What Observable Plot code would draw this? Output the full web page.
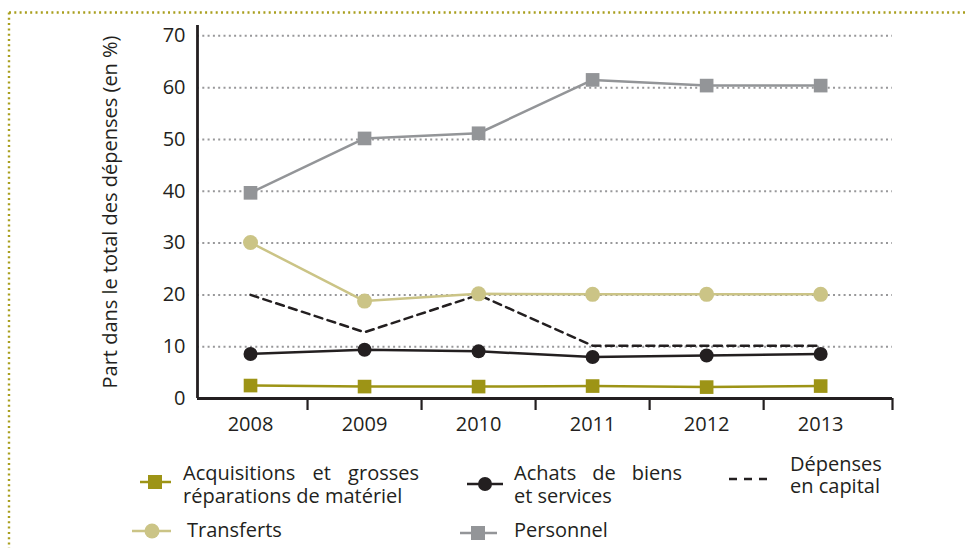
<!DOCTYPE html>
<html>
<head>
<meta charset="utf-8">
<script src="https://cdn.jsdelivr.net/npm/d3@7"></script>
<script src="https://cdn.jsdelivr.net/npm/@observablehq/plot@0.6"></script>
<style>
  html, body { margin: 0; padding: 0; background: #fff; }
  #wrap { position: relative; width: 965px; height: 548px; overflow: hidden; font-family: "Open Sans", Lato, sans-serif; color: #231f20; }
  #chart { position: absolute; left: 0; top: 0; }
  .lg { position: absolute; font-size: 20px; line-height: 23px; white-space: nowrap; }
  .just { text-align: justify; text-align-last: justify; }
  .sw { position: absolute; overflow: visible; }
</style>
</head>
<body>
<div id="wrap">
  <div id="chart"></div>
</div>
<script>
// ---- data ----
const years = [2008, 2009, 2010, 2011, 2012, 2013];
const acquisitions = [2.5, 2.3, 2.3, 2.4, 2.2, 2.4];
const achats = [8.6, 9.4, 9.1, 8.0, 8.3, 8.6];
const depensesCapital = [20.0, 12.8, 20.0, 10.2, 10.2, 10.2];
const transferts = [30.1, 18.8, 20.2, 20.1, 20.1, 20.1];
const personnel = [39.7, 50.2, 51.2, 61.5, 60.4, 60.4];
const yTicks = [0, 10, 20, 30, 40, 50, 60, 70];
const gridTicks = [10, 20, 30, 40, 50, 60, 70];
const xBoundaries = [2008.5, 2009.5, 2010.5, 2011.5, 2012.5, 2013.63];
const yTitle = "Part dans le total des dépenses (en %)";
const legendLabels = {
  acquisitions: ["Acquisitions et grosses", "réparations de matériel"],
  achats: ["Achats de biens", "et services"],
  capital: ["Dépenses", "en capital"],
  transferts: ["Transferts"],
  personnel: ["Personnel"]
};

// ---- style ----
const C = {
  olive: "#9d9416",
  black: "#231f20",
  tan: "#cbc486",
  gray: "#939598",
  grid: "#98989a",
  frame: "#a99f1e"
};
const xDomain = [2007.535, 2013.63];

const rows = (vals) => years.map((y, i) => ({year: y, value: vals[i]}));

const chart = Plot.plot({
  width: 965,
  height: 440,
  marginLeft: 197,
  marginRight: 73,
  marginTop: 25,
  marginBottom: 42,
  style: {fontFamily: "'Open Sans', Lato, sans-serif", color: C.black, background: "transparent"},
  x: {type: "linear", domain: xDomain, label: null},
  y: {domain: [0, 72], label: null},
  marks: [
    // gridlines
    Plot.ruleY(gridTicks, {x1: xDomain[0], x2: xDomain[1], stroke: C.grid, strokeWidth: 2, strokeDasharray: "2,3.3"}),
    // lines
    Plot.line(rows(personnel), {x: "year", y: "value", stroke: C.gray, strokeWidth: 2.5}),
    Plot.line(rows(transferts), {x: "year", y: "value", stroke: C.tan, strokeWidth: 2.5}),
    Plot.line(rows(depensesCapital), {x: "year", y: "value", stroke: C.black, strokeWidth: 2.5, strokeDasharray: "8,5.5"}),
    Plot.line(rows(achats), {x: "year", y: "value", stroke: C.black, strokeWidth: 2.5}),
    Plot.line(rows(acquisitions), {x: "year", y: "value", stroke: C.olive, strokeWidth: 2.5}),
    // markers
    Plot.dot(rows(personnel), {x: "year", y: "value", symbol: "square", r: 7.7, fill: C.gray}),
    Plot.dot(rows(transferts), {x: "year", y: "value", r: 7.5, fill: C.tan}),
    Plot.dot(rows(achats), {x: "year", y: "value", r: 7, fill: C.black}),
    Plot.dot(rows(acquisitions), {x: "year", y: "value", symbol: "square", r: 7.7, fill: C.olive}),
    // axis lines
    Plot.ruleX([xDomain[0]], {y1: 0, y2: 72, stroke: C.black, strokeWidth: 2.8}),
    Plot.ruleY([0], {x1: xDomain[0], x2: xDomain[1], stroke: C.black, strokeWidth: 2.8}),
    // x boundary ticks
    Plot.axisX(xBoundaries, {tickSize: 12, tickFormat: () => "", stroke: C.black, strokeWidth: 2.2, label: null}),
    // x labels
    Plot.axisX(years, {tickSize: 0, tickPadding: 18, tickFormat: d => String(d), fontSize: 20, fill: C.black, label: null}),
    // y labels
    Plot.axisY(yTicks, {tickSize: 0, tickPadding: 12, fontSize: 20, fill: C.black, label: null}),
    // y title
    Plot.text([yTitle], {frameAnchor: "left", dx: -87, rotate: -90, textAnchor: "middle", fontSize: 20, fill: C.black})
  ]
});
document.getElementById("chart").appendChild(chart);

// ---- frame (dotted border) ----
const wrap = document.getElementById("wrap");
const NS = "http://www.w3.org/2000/svg";
function svgEl(tag, attrs) {
  const e = document.createElementNS(NS, tag);
  for (const k in attrs) e.setAttribute(k, attrs[k]);
  return e;
}
const frame = svgEl("svg", {width: 965, height: 548, class: "sw"});
frame.style.left = "0px"; frame.style.top = "0px";
frame.appendChild(svgEl("line", {x1: 9, y1: 12.5, x2: 965, y2: 12.5, stroke: C.frame, "stroke-width": 2.4, "stroke-dasharray": "2,3.3"}));
frame.appendChild(svgEl("line", {x1: 9, y1: 12.5, x2: 9, y2: 548, stroke: C.frame, "stroke-width": 2.4, "stroke-dasharray": "2,3.3"}));
wrap.appendChild(frame);

// ---- legend ----
function swatch(left, top, w, opts) {
  const s = svgEl("svg", {width: w, height: 20, class: "sw"});
  s.style.left = left + "px"; s.style.top = (top - 10) + "px";
  s.appendChild(svgEl("line", {x1: 0, y1: 10, x2: w, y2: 10, stroke: opts.color, "stroke-width": 2.5, "stroke-dasharray": opts.dash || "none"}));
  if (opts.marker === "square") {
    s.appendChild(svgEl("rect", {x: opts.cx - 7, y: 3, width: 14, height: 14, fill: opts.color}));
  } else if (opts.marker === "circle") {
    s.appendChild(svgEl("circle", {cx: opts.cx, cy: 10, r: opts.r || 7, fill: opts.color}));
  }
  wrap.appendChild(s);
}
function label(left, top, lines, firstWidth, lh) {
  const d = document.createElement("div");
  d.className = "lg";
  d.style.left = left + "px"; d.style.top = top + "px";
  if (lh) d.style.lineHeight = lh + "px";
  lines.forEach((t, i) => {
    const l = document.createElement("div");
    l.textContent = t;
    if (i === 0 && firstWidth && lines.length > 1) { l.className = "just"; l.style.width = firstWidth + "px"; }
    d.appendChild(l);
  });
  wrap.appendChild(d);
}
swatch(140, 482, 31, {color: C.olive, marker: "square", cx: 15});
label(183, 461, legendLabels.acquisitions, 236);
swatch(132, 531, 39, {color: C.tan, marker: "circle", cx: 20, r: 7.5});
label(187, 518, legendLabels.transferts);
swatch(467, 484, 36, {color: C.black, marker: "circle", cx: 18, r: 7});
label(514, 461, legendLabels.achats, 168);
swatch(460, 533, 37, {color: C.gray, marker: "square", cx: 18});
label(514, 518, legendLabels.personnel);
swatch(729, 479, 38, {color: C.black, dash: "8,7"});
label(790, 453, legendLabels.capital, null, 22);
</script>
</body>
</html>
